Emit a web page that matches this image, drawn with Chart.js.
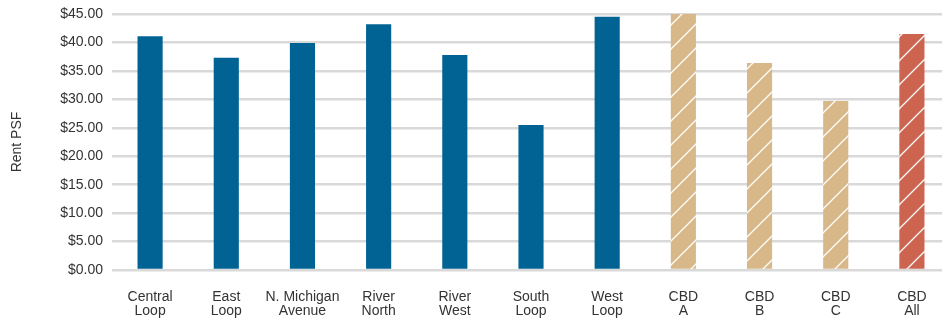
<!DOCTYPE html>
<html>
<head>
<meta charset="utf-8">
<script src="https://cdn.jsdelivr.net/npm/chart.js@4.4.0/dist/chart.umd.min.js"></script>
<style>
  html, body { margin: 0; padding: 0; background: #fff; overflow: hidden; }
  #wrap { width: 950px; height: 320px; }
</style>
</head>
<body>
<div id="wrap"><canvas id="rentChart" width="950" height="320"></canvas></div>
<script>
// --- Data ---
const submarkets = [
    ["Central", "Loop"], ["East", "Loop"], ["N. Michigan", "Avenue"], ["River", "North"],
    ["River", "West"], ["South", "Loop"], ["West", "Loop"], ["CBD", "A"], ["CBD", "B"],
    ["CBD", "C"], ["CBD", "All"]
];
const rentPsf = [41.1, 37.3, 39.9, 43.2, 37.8, 25.5, 44.5, 45.0, 36.4, 29.7, 41.5];
const barKinds = ["sub", "sub", "sub", "sub", "sub", "sub", "sub", "class", "class", "class", "all"];
const yTicks = [0, 5, 10, 15, 20, 25, 30, 35, 40, 45];

const BLUE = '#006394', TAN = '#D8B888', RED = '#CC6450';

// hatched fill: white diagonal stripes over a base colour
function hatch(base) {
    const size = 24;
    const c = document.createElement('canvas');
    c.width = size; c.height = size;
    const g = c.getContext('2d');
    g.fillStyle = base;
    g.fillRect(0, 0, size, size);
    g.strokeStyle = '#ffffff';
    g.lineWidth = 1.3;
    g.beginPath();
    g.moveTo(-2, size + 2); g.lineTo(size + 2, -2);
    g.moveTo(-2, 2); g.lineTo(2, -2);
    g.moveTo(size - 2, size + 2); g.lineTo(size + 2, size - 2);
    g.stroke();
    return document.getElementById('rentChart').getContext('2d').createPattern(c, 'repeat');
}

const fills = { sub: BLUE, class: hatch(TAN), all: hatch(RED) };

const font = { family: "'Liberation Sans', Arial, sans-serif", size: 14, lineHeight: 1.0 };

new Chart(document.getElementById('rentChart'), {
    type: 'bar',
    data: {
        labels: submarkets,
        datasets: [{
            label: 'Rent PSF',
            data: rentPsf,
            backgroundColor: barKinds.map(k => fills[k]),
            barPercentage: 0.66,
            categoryPercentage: 0.5
        }]
    },
    options: {
        responsive: false,
        animation: false,
        devicePixelRatio: 1,
        layout: { padding: { top: 0, left: 10, right: 0, bottom: 0 } },
        plugins: { legend: { display: false }, tooltip: { enabled: false } },
        scales: {
            x: {
                afterFit: s => { s.height = 50; },
                grid: { display: false, drawTicks: false },
                border: { display: false },
                ticks: { color: '#333', font: font, padding: 20, maxRotation: 0, autoSkip: false }
            },
            y: {
                min: 0, max: 45,
                afterFit: s => { s.width = 102; s.paddingTop = 14; s.paddingBottom = 0; },
                afterBuildTicks: axis => { axis.ticks = yTicks.map(v => ({ value: v })); },
                grid: { color: '#d9d9d9', lineWidth: 2.5, drawTicks: false },
                border: { display: false },
                ticks: {
                    color: '#333', font: font, padding: 9,
                    callback: v => '$' + Number(v).toFixed(2)
                },
                title: { display: true, text: 'Rent PSF', color: '#333', font: font, padding: { top: 0, bottom: 0 } }
            }
        }
    }
});
</script>
</body>
</html>
